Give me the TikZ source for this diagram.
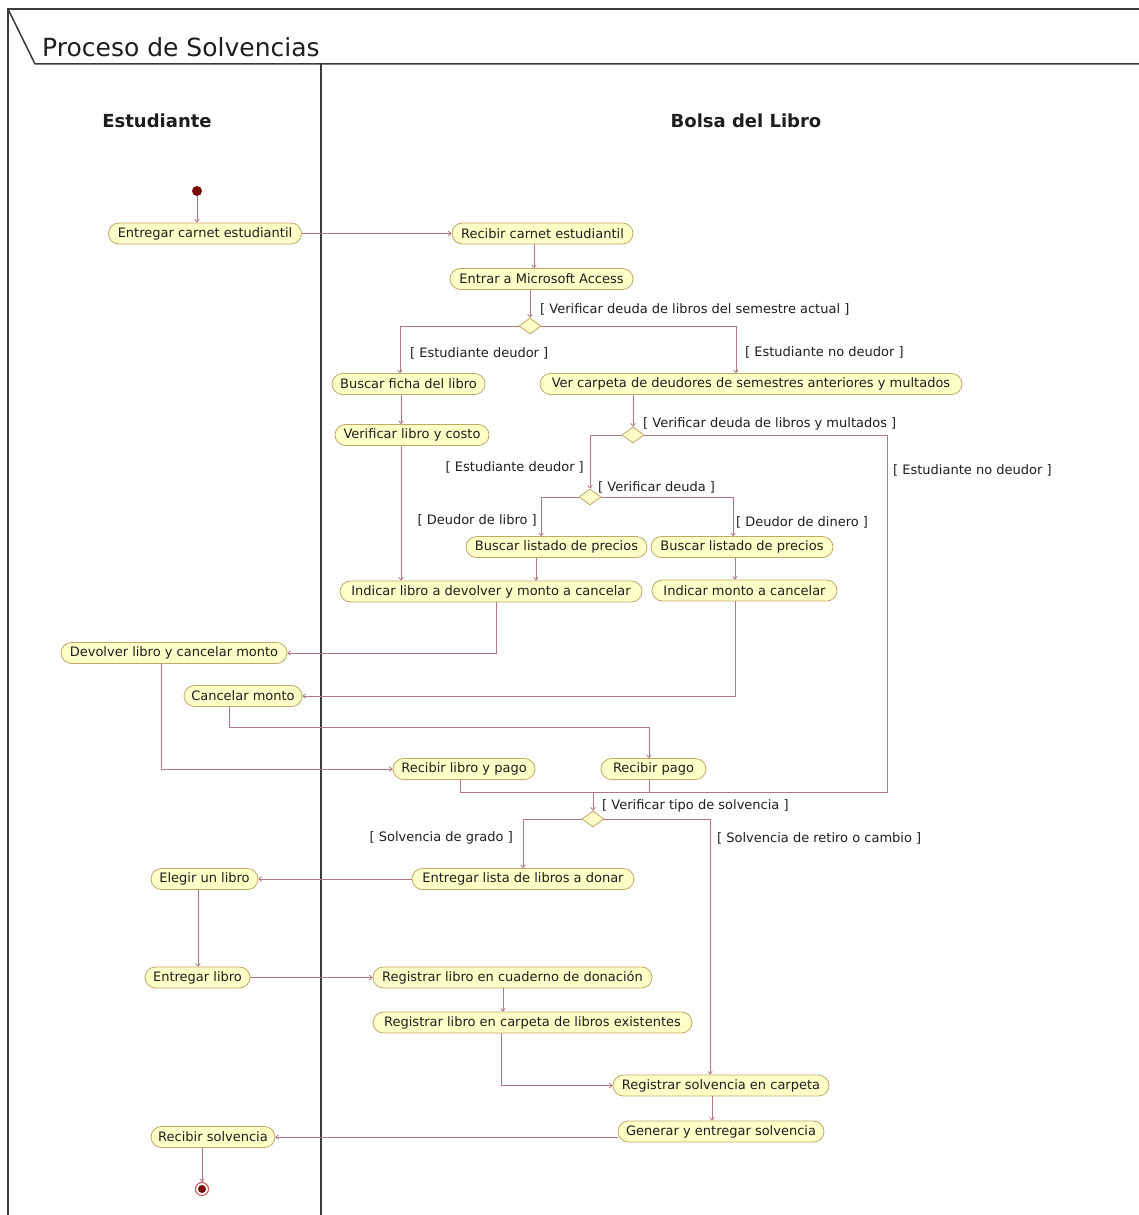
\documentclass[tikz,border=0pt]{standalone}
\usepackage{fontspec}
\setmainfont{DejaVu Sans}
\usetikzlibrary{arrows.meta,shapes.geometric,calc}
\definecolor{flow}{HTML}{B07880}
\definecolor{actfill}{HTML}{FFFFC8}
\definecolor{actline}{HTML}{C0A868}
\definecolor{framecol}{HTML}{3A3A3A}
\definecolor{dotred}{HTML}{7A0A0A}
\definecolor{ringred}{HTML}{D05050}
\definecolor{txt}{HTML}{1E1E1E}
\begin{document}
\begin{tikzpicture}[x=1pt,y=-1pt,
  act/.style={draw=actline, fill=actfill, rounded corners=10.5pt, minimum height=21pt,
              inner xsep=2pt, inner ysep=0pt, font=\fontsize{13}{15}\selectfont, text=txt, line width=0.8pt},
  dec/.style={diamond, draw=actline, fill=actfill, minimum width=22pt, minimum height=16pt,
              inner sep=0pt, line width=0.8pt},
  guard/.style={font=\fontsize{13}{15}\selectfont, text=txt, inner sep=0pt},
  flowline/.style={draw=flow, line width=0.8pt},
  arr/.style={flowline, -{To[length=3.5pt,width=5pt]}},
  lanetitle/.style={font=\bfseries\fontsize{18}{22}\selectfont, text=txt, inner sep=0pt},
  border/.style={draw=framecol, line width=1.5pt}]

\useasboundingbox (0,0) rectangle (1139,1215);
\fill[white] (0,0) rectangle (1139,1215);

% frame, title tab and swimlane divider
\draw[border] (8,1215) -- (8,9) -- (1139,9);
\draw[border] (8,9) -- (35,64) -- (1139,64);
\draw[border] (321,64) -- (321,1215);
\node[anchor=base west, inner sep=0pt, font=\fontsize{25}{30}\selectfont, text=txt] (title) at (42,57) {Proceso de Solvencias};
\node[lanetitle] (laneA) at (157,121) {Estudiante};
\node[lanetitle] (laneB) at (746,121) {Bolsa del Libro};

% start and end
\node[circle, fill=dotred, minimum size=10pt, inner sep=0pt] (init) at (197,191) {};
\node[circle, draw=ringred, fill=white, line width=1pt, minimum size=13pt, inner sep=0pt] (fin) at (202,1189) {};
\fill[dotred] (fin.center) circle (4pt);

% actions
\node[act, minimum width=193pt] (n1)  at (205,233.5)  {Entregar carnet estudiantil};
\node[act, minimum width=181pt] (n2)  at (542.5,233.5) {Recibir carnet estudiantil};
\node[act, minimum width=183pt] (n3)  at (541.5,279)  {Entrar a Microsoft Access};
\node[act, minimum width=153pt] (n4)  at (408.5,384)  {Buscar ficha del libro};
\node[act, minimum width=422pt] (n5)  at (751,384)    {Ver carpeta de deudores de semestres anteriores y multados};
\node[act, minimum width=154pt] (n6)  at (412,435)    {Verificar libro y costo};
\node[act, minimum width=181pt] (n7)  at (556.5,547)  {Buscar listado de precios};
\node[act, minimum width=182pt] (n8)  at (742,547)    {Buscar listado de precios};
\node[act, minimum width=302pt] (n9)  at (491,591.5)  {Indicar libro a devolver y monto a cancelar};
\node[act, minimum width=185pt] (n10) at (744.5,590.5) {Indicar monto a cancelar};
\node[act, minimum width=226pt] (n11) at (174,653)    {Devolver libro y cancelar monto};
\node[act, minimum width=118pt] (n12) at (243,696)    {Cancelar monto};
\node[act, minimum width=142pt] (n13) at (464,769)    {Recibir libro y pago};
\node[act, minimum width=105pt] (n14) at (653.5,769)  {Recibir pago};
\node[act, minimum width=222pt] (n15) at (523,879)    {Entregar lista de libros a donar};
\node[act, minimum width=107pt] (n16) at (204.5,879)  {Elegir un libro};
\node[act, minimum width=105pt] (n17) at (197.5,977.5) {Entregar libro};
\node[act, minimum width=279pt] (n18) at (512.5,977.5) {Registrar libro en cuaderno de donación};
\node[act, minimum width=319pt] (n19) at (532.5,1022.5) {Registrar libro en carpeta de libros existentes};
\node[act, minimum width=216pt] (n20) at (721,1085.5) {Registrar solvencia en carpeta};
\node[act, minimum width=206pt] (n21) at (721,1131.5) {Generar y entregar solvencia};
\node[act, minimum width=124pt] (n22) at (213,1137)   {Recibir solvencia};

% decisions
\node[dec] (d1) at (530,326) {};
\node[dec] (d2) at (633,435) {};
\node[dec] (d3) at (590,497) {};
\node[dec] (d4) at (593,819) {};

% merge points
\coordinate (m)  at (593,792);
\coordinate (cR) at (887,792);

% guards
\node[guard, anchor=west] (g1)  at (540,309) {[ Verificar deuda de libros del semestre actual ]};
\node[guard, anchor=west] (g2)  at (410,353) {[ Estudiante deudor ]};
\node[guard, anchor=west] (g3)  at (745,352) {[ Estudiante no deudor ]};
\node[guard, anchor=west] (g4)  at (643,424) {[ Verificar deuda de libros y multados ]};
\node[guard, anchor=east] (g5)  at (584,467) {[ Estudiante deudor ]};
\node[guard, anchor=west] (g6)  at (893,470) {[ Estudiante no deudor ]};
\node[guard, anchor=west] (g7)  at (598,487) {[ Verificar deuda ]};
\node[guard, anchor=east] (g8)  at (537,520) {[ Deudor de libro ]};
\node[guard, anchor=west] (g9)  at (736,522) {[ Deudor de dinero ]};
\node[guard, anchor=west] (g10) at (602,806) {[ Verificar tipo de solvencia ]};
\node[guard, anchor=east] (g11) at (513,838) {[ Solvencia de grado ]};
\node[guard, anchor=west] (g12) at (717,838) {[ Solvencia de retiro o cambio ]};

% flows
\draw[arr] (init) -- (init |- n1.north);
\draw[arr] (n1.east) -- (n2.west);
\draw[arr] ([xshift=-8.5pt]n2.south) -- ([xshift=-8.5pt]n2.south |- n3.north);
\draw[arr] (d1 |- n3.south) -- (d1.north);
\draw[arr] (d1.west) -| ([xshift=-8.5pt]n4.north);
\draw[arr] (d1.east) -| ([xshift=-15pt]n5.north);
\draw[arr] ([xshift=-7.5pt]n4.south) -- ([xshift=-7.5pt]n4.south |- n6.north);
\draw[arr] (d2 |- n5.south) -- (d2.north);
\draw[arr] (d2.west) -| (d3.north);
\draw[flowline] (d2.east) -| (cR) -- (m);
\draw[arr] (d3.west) -| ([xshift=-15.5pt]n7.north);
\draw[arr] (d3.east) -| ([xshift=-9pt]n8.north);
\draw[arr] ([xshift=-11pt]n6.south) -- ([xshift=-11pt]n6.south |- n9.north);
\draw[arr] ([xshift=-20.5pt]n7.south) -- ([xshift=-20.5pt]n7.south |- n9.north);
\draw[arr] ([xshift=-7pt]n8.south) -- ([xshift=-7pt]n8.south |- n10.north);
\draw[arr] ([xshift=5pt]n9.south) |- (n11.east);
\draw[arr] ([xshift=-9.5pt]n10.south) |- (n12.east);
\draw[arr] ([xshift=-13pt]n11.south) |- (n13.west);
\draw[arr] ([xshift=-14pt]n12.south) -- ++(0,20.5) -| ([xshift=-4.5pt]n14.north);
\draw[flowline] ([xshift=-4pt]n13.south) |- (m);
\draw[flowline] ([xshift=-4.5pt]n14.south) |- (m);
\draw[arr] (m) -- (d4.north);
\draw[arr] (d4.west) -| (n15.north);
\draw[arr] (d4.east) -| ([xshift=-11pt]n20.north);
\draw[arr] (n15.west) -- (n16.east);
\draw[arr] ([xshift=-6.5pt]n16.south) -- ([xshift=-6.5pt]n16.south |- n17.north);
\draw[arr] (n17.east) -- (n18.west);
\draw[arr] ([xshift=-9.5pt]n18.south) -- ([xshift=-9.5pt]n18.south |- n19.north);
\draw[arr] ([xshift=-31.5pt]n19.south) |- (n20.west);
\draw[arr] ([xshift=-9pt]n20.south) -- ([xshift=-9pt]n20.south |- n21.north);
\draw[arr] (n21.west |- n22.east) -- (n22.east);
\draw[arr] ([xshift=-11pt]n22.south) -- ([xshift=-11pt]n22.south |- fin.north);
\end{tikzpicture}
\end{document}
